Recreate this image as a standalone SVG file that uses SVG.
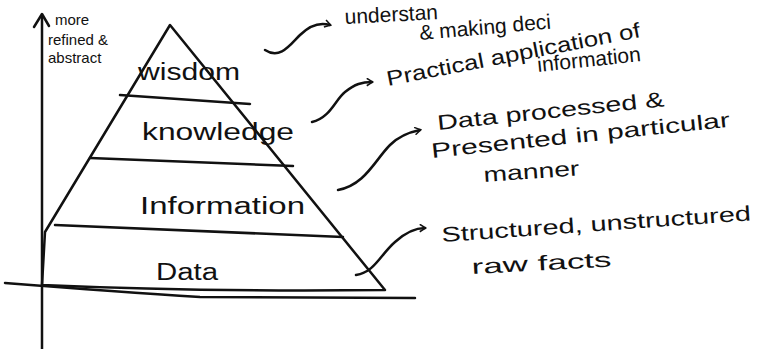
<svg xmlns="http://www.w3.org/2000/svg" width="763" height="349" viewBox="0 0 763 349">
<style>
.ln{fill:none;stroke:#111;stroke-width:2.5;stroke-linecap:round;stroke-linejoin:round}
.t{font-family:"Liberation Sans",Arial,sans-serif;fill:#111}
.lay{font-size:23px}
.note{font-size:21px}
.side{font-size:15px}
</style>
<defs>
<marker id="ah" viewBox="0 0 12 12" refX="9" refY="6" markerWidth="9" markerHeight="9" orient="auto" markerUnits="userSpaceOnUse">
<path d="M2 1 L10 6 L2 11" fill="none" stroke="#111" stroke-width="2"/>
</marker>
</defs>
<rect width="763" height="349" fill="#fff"/>
<g id="axes">
<path class="ln" d="M42 349 L42 16"/>
<path class="ln" d="M34 27 L42 14 L49 26"/>
<path class="ln" d="M5 283 Q120 292 200 297 L415 298"/>
</g>
<g id="pyramid">
<path class="ln" d="M170 25 L45 232 L42 285 Q200 292 385 290 L170 25 Z"/>
</g>
<g id="wisdom">
<path class="ln" d="M120 95 L250 104"/>
<text class="t lay" x="138" y="80" textLength="102" lengthAdjust="spacingAndGlyphs">wisdom</text>
</g>
<g id="knowledge">
<path class="ln" d="M90 158 L293 166"/>
<text class="t lay" x="142" y="140" textLength="152" lengthAdjust="spacingAndGlyphs">knowledge</text>
</g>
<g id="information">
<path class="ln" d="M55 225 L343 237"/>
<text class="t lay" x="140" y="214" textLength="165" lengthAdjust="spacingAndGlyphs">Information</text>
</g>
<g id="data">
<text class="t lay" x="156" y="280" textLength="62" lengthAdjust="spacingAndGlyphs">Data</text>
</g>
<g id="axis-label">
<text class="t side" x="55" y="25">more</text>
<text class="t side" x="48" y="45">refined &amp;</text>
<text class="t side" x="48" y="63">abstract</text>
</g>
<g id="connectors">
<path class="ln" d="M265 50 C280 60 290 45 300 35 C310 25 320 22 330 25" marker-end="url(#ah)"/>
<path class="ln" d="M312 122 C330 118 335 100 345 92 C355 84 362 82 372 82" marker-end="url(#ah)"/>
<path class="ln" d="M338 190 C365 185 375 160 390 145 C400 135 410 132 420 130" marker-end="url(#ah)"/>
<path class="ln" d="M356 275 C375 272 380 255 395 242 C405 233 415 228 425 228" marker-end="url(#ah)"/>
</g>
<g id="note-wisdom">
<text class="t note" x="345" y="24" transform="rotate(-3 345 24)">understan</text>
<text class="t note" x="420" y="40" transform="rotate(-5 420 40)">&amp; making deci</text>
</g>
<g id="note-knowledge">
<text class="t note" x="388" y="86" transform="rotate(-11 388 86)" textLength="258" lengthAdjust="spacingAndGlyphs">Practical application of</text>
<text class="t note" x="538" y="72" transform="rotate(-6 538 72)" font-size="19">information</text>
</g>
<g id="note-information">
<text class="t note" x="438" y="130" transform="rotate(-6 438 130)" textLength="228" lengthAdjust="spacingAndGlyphs">Data processed &amp;</text>
<text class="t note" x="432" y="158" transform="rotate(-6 432 158)" textLength="300" lengthAdjust="spacingAndGlyphs">Presented in particular</text>
<text class="t note" x="484" y="182" transform="rotate(-4 484 182)" textLength="96" lengthAdjust="spacingAndGlyphs">manner</text>
</g>
<g id="note-data">
<text class="t note" x="442" y="242" transform="rotate(-4 442 242)" textLength="310" lengthAdjust="spacingAndGlyphs">Structured, unstructured</text>
<text class="t note" x="472" y="274" transform="rotate(-3 472 274)" textLength="140" lengthAdjust="spacingAndGlyphs">raw facts</text>
</g>
</svg>
